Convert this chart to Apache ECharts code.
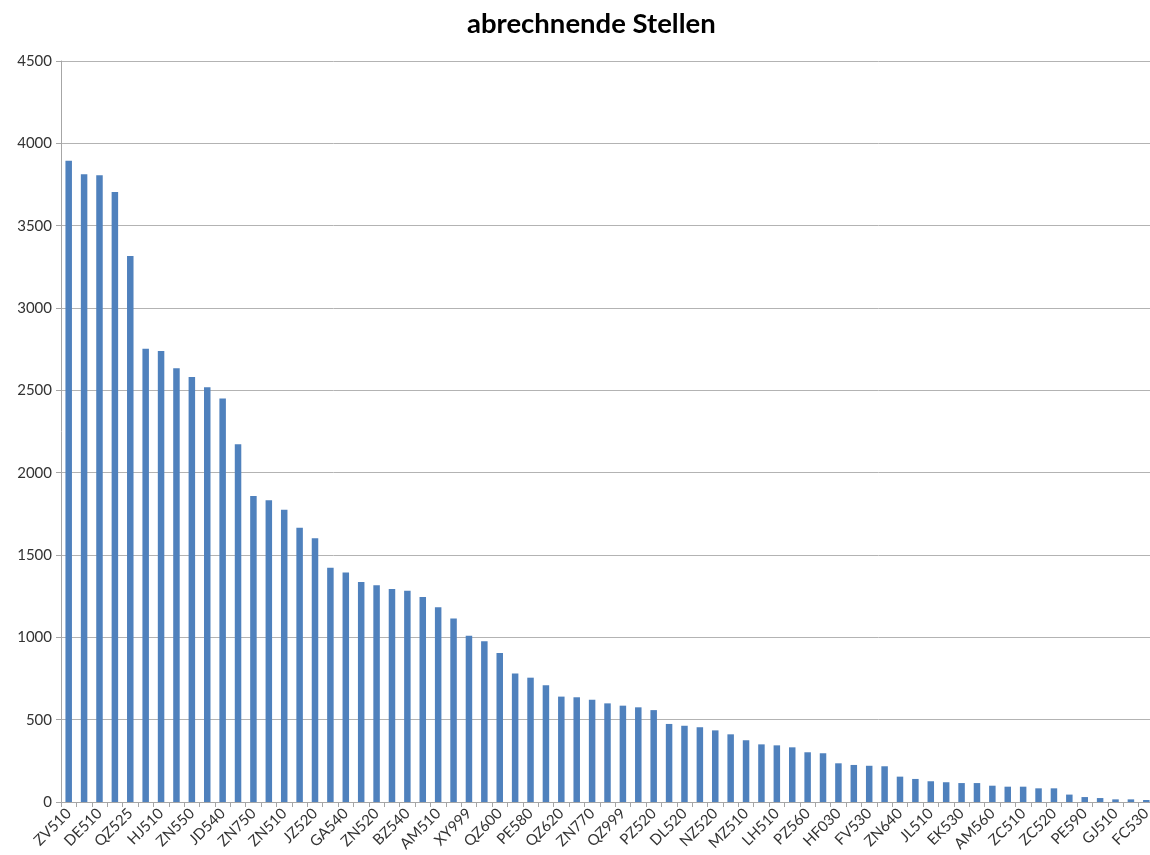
<!DOCTYPE html>
<html>
<head>
<meta charset="utf-8">
<title>abrechnende Stellen</title>
<script src="https://cdn.jsdelivr.net/npm/echarts@6/dist/echarts.min.js"></script>
<style>
  html, body { margin: 0; padding: 0; background: #ffffff; }
  #chart { width: 1150px; height: 855px; }
</style>
</head>
<body>
<div id="chart"></div>
<script>
// Abrechnende Stellen, sorted descending. Only every second code is printed on the axis.
const categories = [
  'ZV510', '', 'DE510', '', 'QZ525', '', 'HJ510', '', 'ZN550', '', 'JD540', '',
  'ZN750', '', 'ZN510', '', 'JZ520', '', 'GA540', '', 'ZN520', '', 'BZ540', '',
  'AM510', '', 'XY999', '', 'QZ600', '', 'PE580', '', 'QZ620', '', 'ZN770', '',
  'QZ999', '', 'PZ520', '', 'DL520', '', 'NZ520', '', 'MZ510', '', 'LH510', '',
  'PZ560', '', 'HF030', '', 'FV530', '', 'ZN640', '', 'JL510', '', 'EK530', '',
  'AM560', '', 'ZC510', '', 'ZC520', '', 'PE590', '', 'GJ510', '', 'FC530'
];

const values = [
  3894, 3812, 3806, 3704, 3316, 2753, 2739, 2634, 2581, 2518, 2451, 2172,
  1858, 1832, 1775, 1666, 1601, 1422, 1394, 1336, 1316, 1294, 1283, 1245,
  1182, 1115, 1010, 976, 905, 781, 755, 709, 640, 636, 621, 599,
  585, 575, 558, 474, 463, 454, 435, 411, 375, 350, 344, 332,
  302, 296, 235, 225, 220, 217, 154, 140, 126, 120, 115, 115,
  99, 93, 93, 83, 83, 45, 30, 24, 16, 16, 12
];

const yTicks = { min: 0, max: 4500, step: 500 };

const FONT = 'Lato, "Open Sans", sans-serif';

const chart = echarts.init(document.getElementById('chart'), null, { renderer: 'canvas' });

chart.setOption({
  backgroundColor: '#ffffff',
  animation: false,
  textStyle: { fontFamily: FONT },
  title: {
    text: 'abrechnende Stellen',
    left: 462,
    top: 5,
    textStyle: {
      fontFamily: FONT,
      fontSize: 27.5,
      fontWeight: 'bold',
      color: '#000000'
    }
  },
  grid: {
    left: 61,
    right: -4,
    top: 61,
    bottom: 53,
    containLabel: false,
    outerBoundsMode: 'none'
  },
  xAxis: {
    type: 'category',
    data: categories,
    boundaryGap: true,
    axisLine: { show: true, lineStyle: { color: '#a6a6a6', width: 1 } },
    axisTick: { show: true, interval: 0, length: 5, lineStyle: { color: '#a6a6a6' } },
    axisLabel: {
      interval: 0,
      rotate: 45,
      margin: 9,
      fontSize: 15,
      color: '#333333',
      fontFamily: FONT
    },
    splitLine: { show: false }
  },
  yAxis: {
    type: 'value',
    min: yTicks.min,
    max: yTicks.max,
    interval: yTicks.step,
    axisLine: { show: true, lineStyle: { color: '#a6a6a6', width: 1 } },
    axisTick: { show: true, length: 5, lineStyle: { color: '#a6a6a6' } },
    axisLabel: {
      margin: 9,
      fontSize: 15,
      color: '#333333',
      fontFamily: FONT,
      formatter: (v) => String(v)
    },
    splitLine: { show: true, lineStyle: { color: '#b3b3b3', width: 1 } }
  },
  series: [{
    type: 'bar',
    data: values,
    barWidth: 6.5,
    itemStyle: { color: '#4f81bd' },
    emphasis: { disabled: true }
  }]
});
</script>
</body>
</html>
